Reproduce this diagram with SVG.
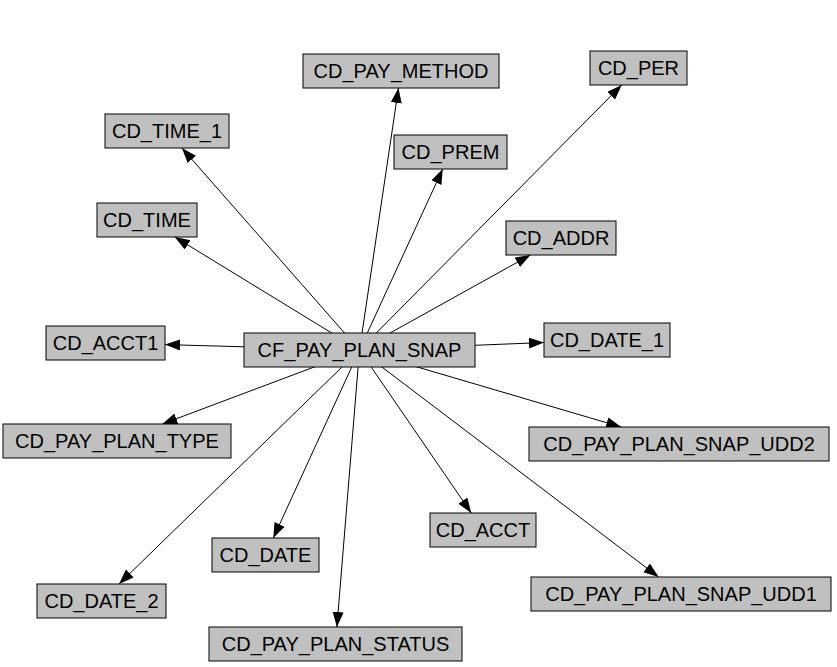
<svg xmlns="http://www.w3.org/2000/svg" width="837" height="667" viewBox="0 0 837 667">
<style>
.n rect{fill:#c0c0c0;stroke:#000;stroke-width:1}
.n text{font-family:"Liberation Sans",Arial,sans-serif;font-size:20px;fill:#000;text-anchor:middle}
.e line{stroke:#000;stroke-width:1;marker-end:url(#ah)}
</style>
<defs>
<marker id="ah" markerUnits="userSpaceOnUse" markerWidth="16" markerHeight="12" refX="15" refY="5.5" orient="auto">
<path d="M0,0 L15,5.5 L0,11 Z" fill="#000"/>
</marker>
</defs>
<rect width="837" height="667" fill="#fff"/>
<g id="connectors" class="e">
<line x1="359.5" y1="350" x2="398.5" y2="88"/>
<line x1="359.5" y1="350" x2="621.7" y2="85"/>
<line x1="359.5" y1="350" x2="181.9" y2="148"/>
<line x1="359.5" y1="350" x2="442.7" y2="169"/>
<line x1="359.5" y1="350" x2="174.8" y2="237"/>
<line x1="359.5" y1="350" x2="530.4" y2="255"/>
<line x1="359.5" y1="350" x2="165" y2="344.6"/>
<line x1="359.5" y1="350" x2="544" y2="342.5"/>
<line x1="359.5" y1="350" x2="162.3" y2="424"/>
<line x1="359.5" y1="350" x2="621.2" y2="427"/>
<line x1="359.5" y1="350" x2="471.3" y2="513"/>
<line x1="359.5" y1="350" x2="273.3" y2="538"/>
<line x1="359.5" y1="350" x2="119" y2="584"/>
<line x1="359.5" y1="350" x2="658.6" y2="577"/>
<line x1="359.5" y1="350" x2="336.9" y2="627"/>
</g>
<g id="CF_PAY_PLAN_SNAP" class="n"><rect x="244" y="333" width="231" height="34"/><text x="359.5" y="357">CF_PAY_PLAN_SNAP</text></g>
<g id="CD_PAY_METHOD" class="n"><rect x="303" y="54" width="196" height="34"/><text x="401" y="78">CD_PAY_METHOD</text></g>
<g id="CD_PER" class="n"><rect x="590" y="51" width="97" height="34"/><text x="638.5" y="75">CD_PER</text></g>
<g id="CD_TIME_1" class="n"><rect x="105" y="114" width="124" height="34"/><text x="167" y="138">CD_TIME_1</text></g>
<g id="CD_PREM" class="n"><rect x="394" y="135" width="113" height="34"/><text x="450.5" y="159">CD_PREM</text></g>
<g id="CD_TIME" class="n"><rect x="97" y="203" width="100" height="34"/><text x="147" y="227">CD_TIME</text></g>
<g id="CD_ADDR" class="n"><rect x="506" y="221" width="110" height="34"/><text x="561" y="245">CD_ADDR</text></g>
<g id="CD_ACCT1" class="n"><rect x="46" y="326" width="119" height="34"/><text x="105.5" y="350">CD_ACCT1</text></g>
<g id="CD_DATE_1" class="n"><rect x="544" y="323" width="126" height="34"/><text x="607" y="347">CD_DATE_1</text></g>
<g id="CD_PAY_PLAN_TYPE" class="n"><rect x="3" y="424" width="228" height="34"/><text x="117" y="448">CD_PAY_PLAN_TYPE</text></g>
<g id="CD_PAY_PLAN_SNAP_UDD2" class="n"><rect x="529" y="427" width="300" height="34"/><text x="679" y="451">CD_PAY_PLAN_SNAP_UDD2</text></g>
<g id="CD_ACCT" class="n"><rect x="430" y="513" width="106" height="34"/><text x="483" y="537">CD_ACCT</text></g>
<g id="CD_DATE" class="n"><rect x="212" y="538" width="107" height="34"/><text x="265.5" y="562">CD_DATE</text></g>
<g id="CD_DATE_2" class="n"><rect x="37" y="584" width="129" height="34"/><text x="101.5" y="608">CD_DATE_2</text></g>
<g id="CD_PAY_PLAN_SNAP_UDD1" class="n"><rect x="531" y="577" width="300" height="34"/><text x="681" y="601">CD_PAY_PLAN_SNAP_UDD1</text></g>
<g id="CD_PAY_PLAN_STATUS" class="n"><rect x="209" y="627" width="253" height="34"/><text x="335.5" y="651">CD_PAY_PLAN_STATUS</text></g>
</svg>
